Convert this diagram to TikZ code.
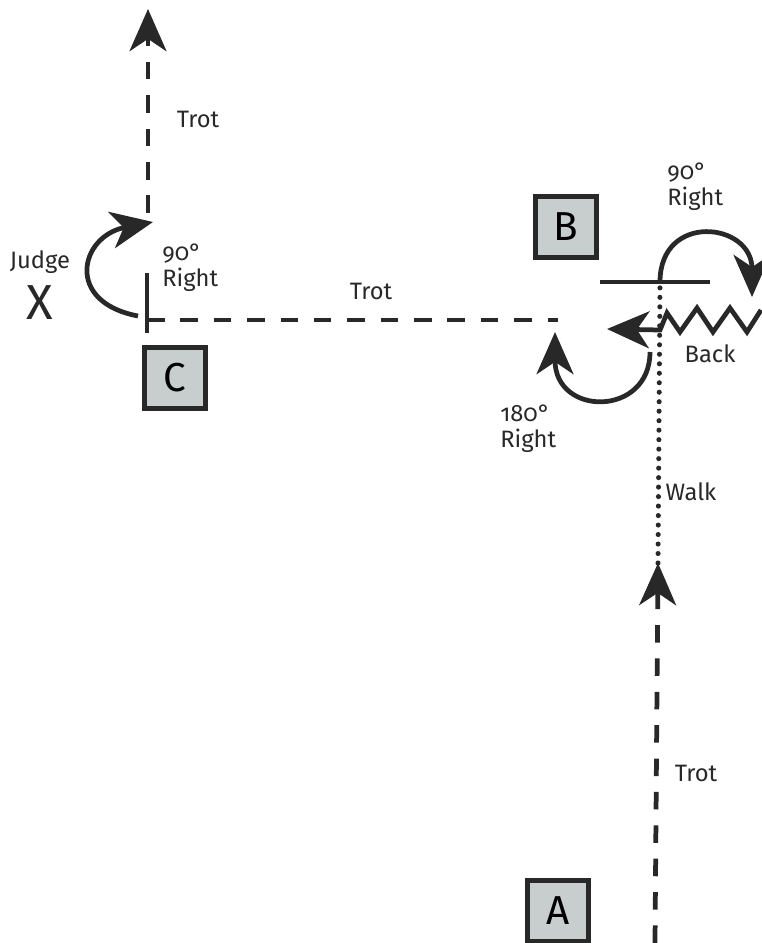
\documentclass[tikz,border=0pt]{standalone}
\usepackage{fontspec}
\setmainfont{Fira Sans}[Numbers=OldStyle]
\usetikzlibrary{positioning}
\usetikzlibrary{arrows.meta}
\definecolor{boxGray}{RGB}{200,206,206}
\definecolor{inkGray}{RGB}{40,40,40}
\tikzset{
   lineDashed/.style={draw=inkGray, line width=2.7pt, dash pattern=on 10pt off 9pt},
   lineDotted/.style={draw=inkGray, line width=2.9pt, line cap=round, dash pattern=on 0pt off 5.4pt},
   linePlain/.style={draw=inkGray, line width=2.7pt},
   bigTip/.style={-{Stealth[length=24pt, width=21pt, inset=7pt]}},
   markerBox/.style={draw=inkGray, line width=2.8pt, fill=boxGray, minimum size=1.22cm, inner sep=0pt, font=\fontsize{23}{25}\selectfont},
   labelText/.style={font=\fontsize{13.5}{15}\selectfont, inner sep=0pt, align=left, text=inkGray},
}

\begin{document}
\begin{tikzpicture}[x=0.02cm, y=-0.02cm]
  \useasboundingbox (0,0) rectangle (761,943);
  %
  % markers
  \node[markerBox] (markerA) at (558,911) {A};
  \node[markerBox] (markerB) at (566,227) {B};
  \node[markerBox] (markerC) at (175,378) {C};
  %
  % start: trot up to the pole line, then walk
  \coordinate (startA) at (655,943);
  \coordinate (walkStart) at (658,563);
  \coordinate (poleCross) at (660,282);
  \draw[lineDashed, bigTip] (startA) -- (walkStart);
  \draw[lineDotted] (walkStart) -- (poleCross);
  \draw[linePlain] (600,282) coordinate (poleLeft) -- (710,282) coordinate (poleRight);
  %
  % 90 degree right turn and back up
  \coordinate (turnEnd) at (752,297);
  \draw[linePlain, bigTip] (poleCross) .. controls (660,212) and (752,222) .. (turnEnd);
  \coordinate (backTip) at (607,329);
  \draw[linePlain, bigTip] (761,310) -- (747,332) -- (730,308) -- (713,332) -- (697,308)
     -- (680,332) -- (667,313) -- (660,330) -- (backTip);
  %
  % 180 degree right turn
  \coordinate (halfStart) at (650,352);
  \coordinate (halfEnd) at (555,332);
  \draw[linePlain, bigTip] (halfStart) .. controls (650,417) and (555,417) .. (halfEnd);
  %
  % trot to the judge
  \coordinate (trotWestEnd) at (558,320);
  \coordinate (barTop) at (147,273);
  \coordinate (barBottom) at (147,333);
  \coordinate (barMid) at (147,320);
  \draw[linePlain] (barTop) -- (barBottom);
  \draw[lineDashed] (barMid) -- (trotWestEnd);
  %
  % 90 degree right turn at the judge, then trot away
  \coordinate (judgeTurnStart) at (138,316);
  \coordinate (judgeTurnEnd) at (153,222);
  \draw[linePlain, bigTip] (judgeTurnStart) .. controls (64,302) and (80,236) .. (judgeTurnEnd);
  \coordinate (northStart) at (148,213);
  \coordinate (northEnd) at (148,9);
  \draw[lineDashed, bigTip] (northStart) -- (northEnd);
  %
  % labels
  \node[labelText] (trotNorth) at (198,119) {Trot};
  \node[labelText] (trotWest) at (371,291) {Trot};
  \node[labelText] (trotSouth) at (696,773) {Trot};
  \node[labelText] (walkLabel) at (691,492) {Walk};
  \node[labelText] (backLabel) at (710,354) {Back};
  \node[labelText] (judgeLabel) at (40,262) {Judge};
  \node[font=\fontsize{28}{28}\selectfont, inner sep=0pt, text=inkGray] (judgeX) at (40,303) {X};
  \node[labelText, anchor=west] (turnJudge) at (162,268) {90°\\Right};
  \node[labelText, anchor=west] (turnPole) at (667,187) {90°\\Right};
  \node[labelText, anchor=west] (turnHalf) at (500,429) {180°\\Right};
\end{tikzpicture}
\end{document}
